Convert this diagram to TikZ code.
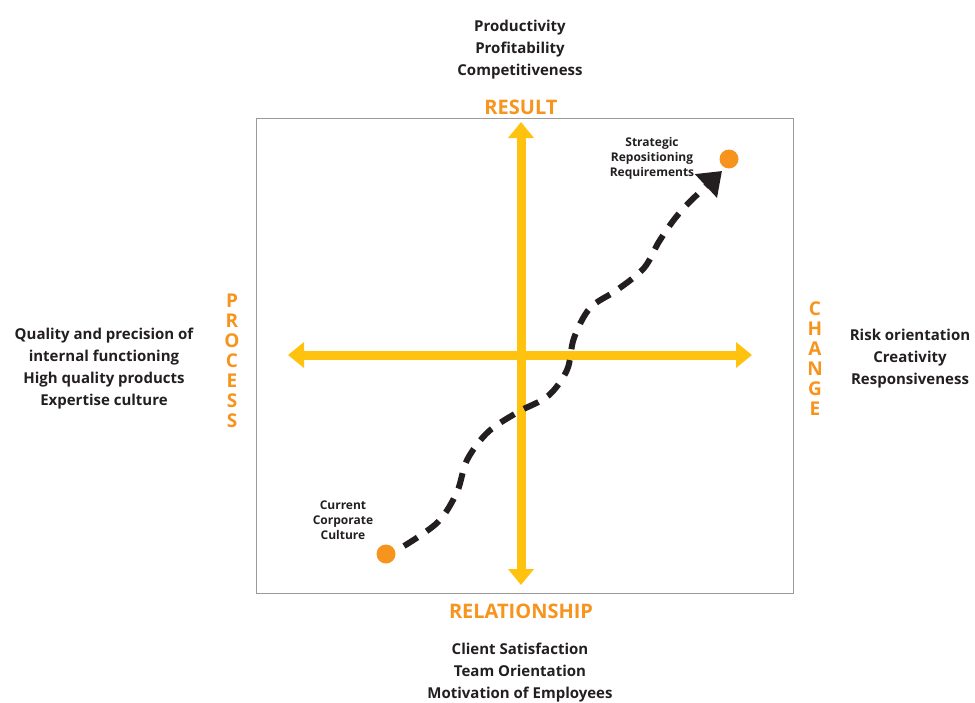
\documentclass[tikz,border=0pt]{standalone}
\usepackage{fontspec}
\setmainfont{Open Sans}
\usetikzlibrary{arrows.meta}
\definecolor{txt}{HTML}{231F20}
\definecolor{orng}{HTML}{F7941D}
\definecolor{yel}{HTML}{FFC20E}
\definecolor{frm}{HTML}{9A9A9A}
\begin{document}
\begin{tikzpicture}[x=1pt,y=-1pt,
  blk/.style={text=txt,font=\fontsize{15}{22}\selectfont\bfseries,align=center,inner sep=0pt},
  ttl/.style={text=orng,font=\fontsize{20}{20}\selectfont\bfseries,align=center,inner sep=0pt},
  vttl/.style={text=orng,font=\fontsize{19}{20}\selectfont\bfseries,align=center,inner sep=0pt},
  small/.style={text=txt,font=\fontsize{12}{15}\selectfont\bfseries,align=center,inner sep=0pt},
  axis/.style={draw=yel,line width=9pt,-{Triangle[width=25pt,length=16pt]}},
  dot/.style={circle,fill=orng,minimum size=19pt,inner sep=0pt},
  journey/.style={draw=txt,line width=6pt,dash pattern=on 16pt off 11pt,-{Triangle[width=31pt,length=22pt]}}]
\useasboundingbox (0,0) rectangle (975,702);
\draw[frm,line width=1pt] (256,118) rectangle (793,593);
% axes
\coordinate (o) at (521,355);
\coordinate (top) at (521,122);
\coordinate (bot) at (521,585);
\coordinate (lft) at (288,355);
\coordinate (rgt) at (752,355);
\draw[axis] (o) -- (top);
\draw[axis] (o) -- (bot);
\draw[axis] (o) -- (lft);
\draw[axis] (o) -- (rgt);
% titles
\node[ttl] (result) at (521,107) {RESULT};
\node[ttl] (rel) at (521,611) {RELATIONSHIP};
\node[vttl] (proc) at (232,361) {P\\R\\O\\C\\E\\S\\S};
\node[vttl] (chg) at (815,359) {C\\H\\A\\N\\G\\E};
% text blocks
\node[blk] (tb) at (520,50) {Productivity\\Profitability\\Competitiveness};
\node[blk] (bb) at (520,673) {Client Satisfaction\\Team Orientation\\Motivation of Employees};
\node[blk] (lb) at (104,369) {Quality and precision of\\internal functioning\\High quality products\\Expertise culture};
\node[blk] (rb) at (910,359) {Risk orientation\\Creativity\\Responsiveness};
% dots
\node[dot] (cur) at (386,554) {};
\node[dot] (tgt) at (729,159) {};
\node[small] (curl) at (343,520) {Current\\Corporate\\Culture};
\node[small] (tgtl) at (652,158) {Strategic\\Repositioning\\Requirements};
% journey
\coordinate (p0) at (404,546);
\coordinate (p1) at (438,522);
\coordinate (p2) at (457,492);
\coordinate (p3) at (467,460);
\coordinate (p4) at (488,432);
\coordinate (p5) at (518,412);
\coordinate (p6) at (548,396);
\coordinate (p7) at (567,370);
\coordinate (p8) at (574,338);
\coordinate (p9) at (590,308);
\coordinate (p10) at (617,290);
\coordinate (p11) at (644,268);
\coordinate (p12) at (660,240);
\coordinate (p13) at (682,210);
\coordinate (end) at (722,171);
\draw[journey] plot[smooth,tension=0.55] coordinates {(p0) (p1) (p2) (p3) (p4) (p5) (p6) (p7) (p8) (p9) (p10) (p11) (p12) (p13) (end)};
\end{tikzpicture}
\end{document}
